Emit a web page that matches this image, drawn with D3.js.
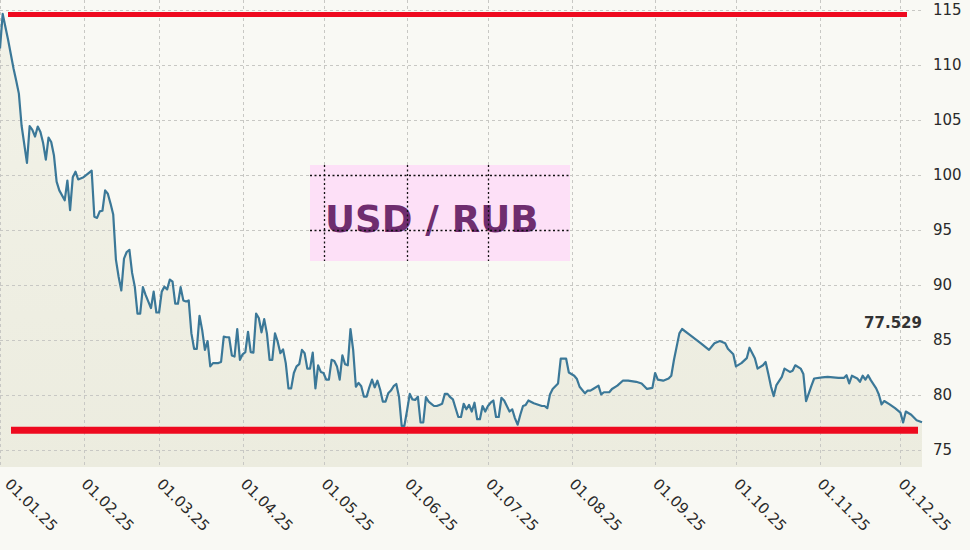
<!DOCTYPE html>
<html>
<head>
<meta charset="utf-8">
<script src="https://cdn.jsdelivr.net/npm/d3@7"></script>
<style>
  html, body { margin: 0; padding: 0; background: #f9f9f4; }
  svg { display: block; }
</style>
</head>
<body>
<svg id="chart" width="970" height="550"></svg>
<script>
// ---- data ----
// days since 01.01.25
const dayIndex = [
  0,1,3,5,6,7,8,10,11,12,13,14,15,16,17,18,19,20,21,22,24,25,26,27,28,29,
  31,33,34,35,36,37,38,39,40,41,42,43,44,45,46,47,48,49,50,51,52,53,54,56,57,58,
  59,60,61,62,63,64,65,66,67,68,69,70,71,72,73,74,75,76,77,78,79,81,82,83,84,85,86,87,88,89,
  90,91,92,93,94,95,96,97,98,99,100,101,102,103,104,105,106,107,108,109,110,111,112,113,114,115,116,117,118,119,
  120,121,122,123,124,125,126,127,128,129,130,131,132,133,134,135,136,137,138,139,140,141,142,143,144,145,146,147,148,149,150,
  151,152,153,154,155,156,157,158,159,160,161,162,163,164,165,166,167,168,169,170,171,172,173,174,175,176,177,178,179,180,
  181,182,183,184,185,186,187,188,189,190,191,192,193,194,195,196,198,201,202,203,204,205,207,208,209,210,211,
  213,214,215,217,218,219,220,222,223,224,226,227,229,231,233,236,238,240,242,
  243,244,246,248,249,250,252,253,256,260,263,265,267,269,270,272,
  273,275,277,278,280,281,283,284,285,286,287,288,290,291,293,294,295,297,298,299,301,302,
  305,307,309,311,313,314,315,316,318,319,320,321,322,323,325,326,327,328,330,332,
  334,335,336,338,340,342
];
const rate = [
  111.5,114.64,112.3,109.7,108.6,107.4,104.5,101.1,104.45,104.1,103.5,104.4,103.9,102.9,101.4,103.4,103.0,101.8,99.4,98.6,97.7,99.5,96.8,99.8,100.3,99.6,
  99.8,100.2,100.4,96.2,96.1,96.7,96.75,98.6,98.3,97.4,96.4,92.3,90.75,89.5,92.4,93.0,93.2,91.1,89.85,87.4,87.4,89.8,89.1,87.9,89.4,87.5,
  87.5,89.4,89.85,89.6,90.5,90.3,88.3,88.3,89.8,88.6,88.5,88.6,85.6,84.2,84.2,87.2,85.9,84.1,84.9,82.6,82.9,82.9,83.0,85.3,85.25,85.25,83.6,83.5,86.0,83.2,
  83.7,83.9,85.75,83.9,83.85,87.4,87.0,85.7,86.9,85.6,83.2,83.2,85.6,84.85,83.8,84.15,82.9,80.6,80.6,82.0,82.6,82.8,84.1,83.8,82.4,82.4,83.85,80.6,82.7,82.1,
  82.0,81.4,81.4,83.2,83.1,82.6,81.4,83.6,82.8,82.7,86.0,84.1,80.75,81.1,80.8,79.85,79.85,80.7,81.4,80.7,81.3,80.5,79.4,79.4,80.15,80.4,80.8,81.0,79.85,77.2,77.2,
  78.6,80.1,79.6,79.55,79.85,77.5,77.5,79.8,79.4,79.2,79.0,79.0,79.1,79.2,80.1,80.1,79.8,79.6,78.8,78.0,78.0,79.2,78.7,79.1,78.5,79.3,77.8,77.8,79.0,78.5,
  79.0,79.3,79.5,78.0,78.0,79.75,79.5,79.0,78.5,78.7,77.9,77.3,78.2,79.0,79.1,79.5,79.25,79.0,79.0,78.8,80.05,80.55,81.05,83.3,83.3,83.3,82.05,
  81.75,81.45,80.75,80.15,80.4,80.4,80.55,80.85,80.05,80.25,80.25,80.55,80.85,81.3,81.3,81.2,81.05,80.55,80.65,
  82.0,81.4,81.3,81.5,81.75,83.2,85.6,86.0,85.45,84.7,84.1,84.7,84.9,84.7,84.2,83.7,
  82.6,82.9,83.35,84.3,83.35,82.4,82.7,83.0,81.9,80.75,79.9,80.9,81.65,82.4,82.1,82.2,82.7,82.4,81.9,79.45,80.85,81.5,
  81.6,81.65,81.6,81.55,81.55,81.8,81.05,81.75,81.5,81.2,81.75,81.4,81.8,81.35,80.6,80.05,79.15,79.45,79.15,78.8,
  78.4,77.5,78.5,78.2,77.7,77.529
];
const monthTicks = ["01.01.25","01.02.25","01.03.25","01.04.25","01.05.25","01.06.25",
                    "01.07.25","01.08.25","01.09.25","01.10.25","01.11.25","01.12.25"];
const yTicks = [75, 80, 85, 90, 95, 100, 105, 110, 115];
const maxLevel = 114.6;
const minLevel = 76.8;
const lastLabel = "77.529";
const titleText = "USD / RUB";

// ---- layout ----
const W = 970, H = 550;
const plot = { left: 0, right: 922, top: 0, bottom: 467 };
const start = Date.UTC(2025, 0, 1);
const parseTick = d3.utcParse("%d.%m.%y");

const x = d3.scaleUtc()
  .domain([new Date(start), d3.utcDay.offset(new Date(start), 342.5)])
  .range([plot.left, plot.right]);
const y = d3.scaleLinear().domain([75, 115]).range([450, 10]);

const data = dayIndex.map((d, i) => ({ date: d3.utcDay.offset(new Date(start), d), v: rate[i] }));

const svg = d3.select("#chart");
const defs = svg.append("defs");
const grad = defs.append("linearGradient").attr("id", "areaGrad")
  .attr("x1", 0).attr("y1", 0).attr("x2", 0).attr("y2", 1);
grad.append("stop").attr("offset", "0%").attr("stop-color", "#f2f2e8");
grad.append("stop").attr("offset", "100%").attr("stop-color", "#ececdf");

svg.append("rect").attr("width", W).attr("height", H).attr("fill", "#f9f9f4");

// area under line
svg.append("path").datum(data)
  .attr("fill", "url(#areaGrad)")
  .attr("d", d3.area().x(d => x(d.date)).y0(plot.bottom).y1(d => y(d.v)));

// grid
const grid = svg.append("g").attr("stroke", "#c8c8c4").attr("stroke-width", 1)
  .attr("stroke-dasharray", "3,3").attr("fill", "none");
yTicks.forEach(t => {
  grid.append("line").attr("x1", plot.left).attr("x2", plot.right)
    .attr("y1", Math.round(y(t)) + 0.5).attr("y2", Math.round(y(t)) + 0.5);
});
monthTicks.forEach(t => {
  const xx = Math.round(x(parseTick(t))) + 0.5;
  grid.append("line").attr("x1", xx).attr("x2", xx).attr("y1", plot.top).attr("y2", plot.bottom);
});

// title box
const box = { x0: 310, x1: 570, y0: 165, y1: 261 };
svg.append("rect").attr("x", box.x0).attr("y", box.y0)
  .attr("width", box.x1 - box.x0).attr("height", box.y1 - box.y0)
  .attr("fill", "#fde0f7");
svg.append("text").attr("x", 325).attr("y", 232)
  .attr("font-family", "DejaVu Sans, Verdana, sans-serif")
  .attr("font-weight", "bold").attr("font-size", 37)
  .attr("fill", "#6f2d6f").text(titleText);
const dots = svg.append("g").attr("stroke", "#111").attr("stroke-width", 1.3)
  .attr("stroke-dasharray", "2,2.5").attr("fill", "none");
yTicks.filter(t => y(t) > box.y0 && y(t) < box.y1).forEach(t => {
  dots.append("line").attr("x1", box.x0).attr("x2", box.x1)
    .attr("y1", Math.round(y(t)) + 0.5).attr("y2", Math.round(y(t)) + 0.5);
});
monthTicks.map(parseTick).filter(d => x(d) > box.x0 && x(d) < box.x1).forEach(d => {
  const xx = Math.round(x(d)) + 0.5;
  dots.append("line").attr("x1", xx).attr("x2", xx).attr("y1", box.y0).attr("y2", box.y1);
});

// red level lines
svg.append("line").attr("x1", 8).attr("x2", 907)
  .attr("y1", y(maxLevel)).attr("y2", y(maxLevel))
  .attr("stroke", "#ee0a1f").attr("stroke-width", 5);
svg.append("line").attr("x1", 11).attr("x2", 918)
  .attr("y1", y(minLevel)).attr("y2", y(minLevel))
  .attr("stroke", "#ee0a1f").attr("stroke-width", 7);

// line
svg.append("path").datum(data)
  .attr("fill", "none").attr("stroke", "#3b7898").attr("stroke-width", 2.2)
  .attr("stroke-linejoin", "round")
  .attr("d", d3.line().x(d => x(d.date)).y(d => y(d.v)));

// y labels (right)
const font = "DejaVu Sans, Verdana, sans-serif";
svg.append("g").selectAll("text").data(yTicks).join("text")
  .attr("x", 933).attr("y", d => y(d)).attr("dy", "0.36em")
  .attr("font-family", font).attr("font-size", 15).attr("fill", "#2a2a2a")
  .text(d => d);

// x labels rotated
svg.append("g").selectAll("text").data(monthTicks).join("text")
  .attr("transform", d => `translate(${Math.max(4, x(parseTick(d)) - 3)},485) rotate(45)`)
  .attr("font-family", font).attr("font-size", 15).attr("fill", "#2a2a2a")
  .text(d => d);

// last value label
svg.append("text").attr("x", 922).attr("y", 328).attr("text-anchor", "end")
  .attr("font-family", font).attr("font-weight", "bold").attr("font-size", 15)
  .attr("fill", "#333").text(lastLabel);
</script>
</body>
</html>
